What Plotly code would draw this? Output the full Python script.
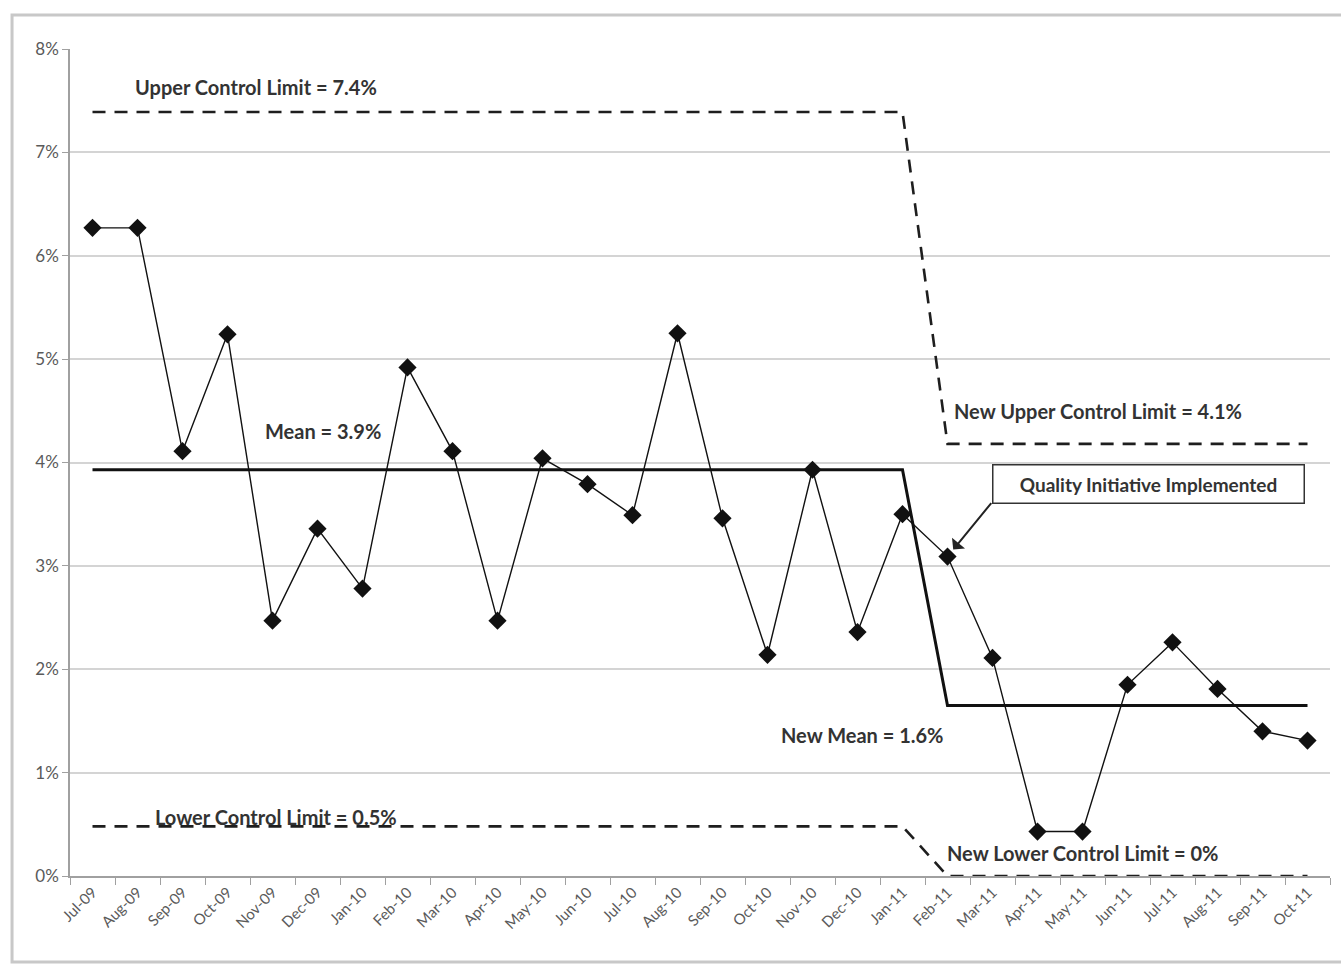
import plotly.graph_objects as go

months = ["Jul-09", "Aug-09", "Sep-09", "Oct-09", "Nov-09", "Dec-09", "Jan-10", "Feb-10",
          "Mar-10", "Apr-10", "May-10", "Jun-10", "Jul-10", "Aug-10", "Sep-10", "Oct-10",
          "Nov-10", "Dec-10", "Jan-11", "Feb-11", "Mar-11", "Apr-11", "May-11", "Jun-11",
          "Jul-11", "Aug-11", "Sep-11", "Oct-11"]

rate = [6.27, 6.27, 4.11, 5.24, 2.47, 3.36, 2.78, 4.92, 4.11, 2.47, 4.04, 3.79, 3.49, 5.25,
        3.46, 2.14, 3.93, 2.36, 3.50, 3.09, 2.11, 0.43, 0.43, 1.85, 2.26, 1.81, 1.40, 1.31]

mean_line = [3.93, 3.93, 3.93, 3.93, 3.93, 3.93, 3.93, 3.93, 3.93, 3.93, 3.93, 3.93, 3.93, 3.93,
             3.93, 3.93, 3.93, 3.93, 3.93, 1.65, 1.65, 1.65, 1.65, 1.65, 1.65, 1.65, 1.65, 1.65]

ucl = [7.39, 7.39, 7.39, 7.39, 7.39, 7.39, 7.39, 7.39, 7.39, 7.39, 7.39, 7.39, 7.39, 7.39,
       7.39, 7.39, 7.39, 7.39, 7.39, 4.18, 4.18, 4.18, 4.18, 4.18, 4.18, 4.18, 4.18, 4.18]

lcl = [0.48, 0.48, 0.48, 0.48, 0.48, 0.48, 0.48, 0.48, 0.48, 0.48, 0.48, 0.48, 0.48, 0.48,
       0.48, 0.48, 0.48, 0.48, 0.48, 0.0, 0.0, 0.0, 0.0, 0.0, 0.0, 0.0, 0.0, 0.0]

y_ticks = [0, 1, 2, 3, 4, 5, 6, 7, 8]
y_labels = ["0%", "1%", "2%", "3%", "4%", "5%", "6%", "7%", "8%"]

INK = "#1e1e1e"
TXT = "#333333"
FONT = "Lato"

fig = go.Figure()

fig.add_trace(go.Scatter(x=months, y=ucl, mode="lines",
                         line=dict(color=INK, width=2.6, dash="13px,9px"), hoverinfo="skip"))
fig.add_trace(go.Scatter(x=months, y=lcl, mode="lines",
                         line=dict(color=INK, width=2.6, dash="13px,9px"), hoverinfo="skip"))
fig.add_trace(go.Scatter(x=months, y=mean_line, mode="lines",
                         line=dict(color="#111111", width=3), hoverinfo="skip"))
fig.add_trace(go.Scatter(x=months, y=rate, mode="lines+markers",
                         line=dict(color="#111111", width=1.4),
                         marker=dict(symbol="diamond", size=14, color="#111111")))

annots = [
    dict(text="Upper Control Limit = 7.4%", x=1, y=7.63, xanchor="left", xshift=-5),
    dict(text="Mean = 3.9%", x=4, y=4.3, xanchor="left", xshift=-10),
    dict(text="New Upper Control Limit = 4.1%", x=19, y=4.5, xanchor="left", xshift=4),
    dict(text="New Mean = 1.6%", x=19, y=1.36, xanchor="right", xshift=-2),
    dict(text="Lower Control Limit = 0.5%", x=1, y=0.57, xanchor="left", xshift=15),
    dict(text="New Lower Control Limit = 0%", x=19, y=0.22, xanchor="left", xshift=-3),
]

ann_list = []
for a in annots:
    ann_list.append(dict(text="<b>" + a["text"] + "</b>", x=a["x"], y=a["y"], xref="x", yref="y",
                         xanchor=a["xanchor"], yanchor="middle", xshift=a["xshift"],
                         showarrow=False, font=dict(family=FONT, size=20, color=TXT)))

ann_list.append(dict(text="<b>Quality Initiative Implemented</b>", x=23.47, y=3.79, xref="x", yref="y",
                     showarrow=False, font=dict(family=FONT, size=19, color=TXT),
                     width=296, align="center",
                     bordercolor="#333333", borderwidth=1.5, borderpad=7, bgcolor="white"))
ann_list.append(dict(text="", x="Feb-11", y=rate[19], xref="x", yref="y",
                     showarrow=True, ax=45, ay=-55, standoff=9,
                     arrowhead=1, arrowsize=1.4, arrowwidth=2, arrowcolor="#222222"))

fig.update_layout(
    width=1341, height=966,
    margin=dict(l=70, r=11, t=49, b=90),
    paper_bgcolor="white", plot_bgcolor="white",
    showlegend=False,
    annotations=ann_list,
    shapes=[dict(type="rect", xref="paper", yref="paper", x0=-0.046, x1=1.03, y0=-0.104, y1=1.041,
                 line=dict(color="#c8c8c8", width=3), layer="below")],
)

fig.update_xaxes(type="category", categoryorder="array", categoryarray=months,
                 tickangle=-45, ticks="outside", tickson="boundaries", ticklen=7,
                 tickcolor="#a0a0a0", showline=True, linecolor="#a0a0a0", linewidth=1.5,
                 showgrid=False, tickfont=dict(family=FONT, size=15, color="#5a5a5a"),
                 range=[-0.5, 27.5])
fig.update_yaxes(range=[0, 8], tickvals=y_ticks, ticktext=y_labels, ticks="outside", ticklen=6,
                 tickcolor="#a0a0a0", showline=True, linecolor="#a0a0a0", linewidth=1.5,
                 showgrid=True, gridcolor="#d4d4d4", gridwidth=1.5, zeroline=False,
                 tickfont=dict(family=FONT, size=17, color="#5a5a5a"))

fig.write_html("out.html")
